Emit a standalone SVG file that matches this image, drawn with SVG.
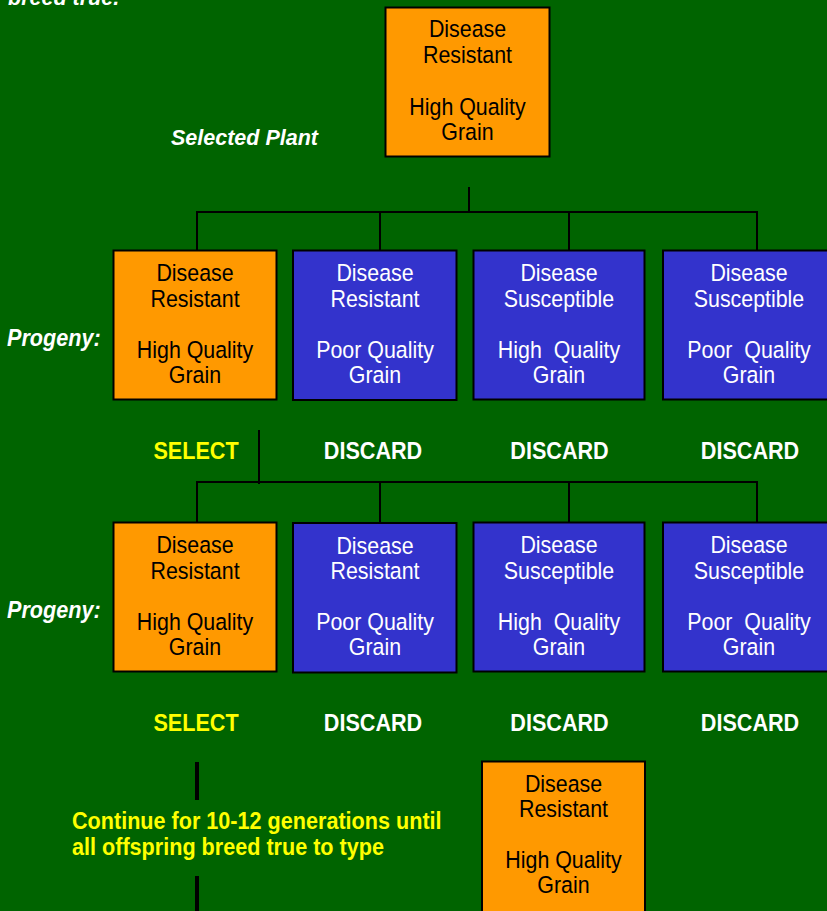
<svg xmlns="http://www.w3.org/2000/svg" width="827" height="911" viewBox="0 0 827 911">
  <style>
    .box { stroke: #000; stroke-width: 2; }
    .res { fill: #FF9900; }
    .sus { fill: #3333CC; }
    .wire { stroke: #000; stroke-width: 2; fill: none; }
    .post { stroke: #000; stroke-width: 4; fill: none; }
    text { font-family: "Liberation Sans", Arial, Helvetica, sans-serif; }
    .t { font-size: 23.5px; text-anchor: middle; transform-box: fill-box; transform-origin: center; transform: scaleX(0.91); }
    .dk { fill: #000; }
    .lt { fill: #fff; }
    .lab { font-size: 24px; font-weight: bold; text-anchor: middle; transform-box: fill-box; transform-origin: center; transform: scaleX(0.9); }
    .sel { fill: #FFFF00; }
    .dis { fill: #fff; }
    .side { font-size: 24px; font-weight: bold; font-style: italic; fill: #fff; transform-box: fill-box; transform-origin: left center; transform: scaleX(0.9); }
    .cap { font-size: 21.5px; font-weight: bold; font-style: italic; fill: #fff; }
    .note { font-size: 24px; font-weight: bold; fill: #FFFF00; transform-box: fill-box; transform-origin: left center; transform: scaleX(0.9); }
  </style>

  <rect x="0" y="0" width="827" height="911" fill="#006400"/>

  <text class="cap" x="8" y="4.5">breed true.</text>
  <text class="cap" x="171" y="144.5">Selected Plant</text>

  <!-- branch lines -->
  <g id="connectors">
    <path class="wire" d="M469 187 V213 M197 250 V212 H757 V250 M380 212 V250 M569 212 V250"/>
    <path class="wire" d="M259 430 V484 M197 522 V482 H757 V522 M380 482 V522 M569 482 V522"/>
    <path class="post" d="M197 762 V800 M197 876 V911"/>
  </g>

  <!-- parent -->
  <g id="parent">
    <rect class="box res" x="385.5" y="7.5" width="164" height="149"/>
    <text class="t dk" x="467.5" y="37.5">Disease</text>
    <text class="t dk" x="467.5" y="63.5">Resistant</text>
    <text class="t dk" x="467.5" y="115">High Quality</text>
    <text class="t dk" x="467.5" y="140">Grain</text>
  </g>

  <!-- first generation -->
  <text class="side" x="7" y="346">Progeny:</text>
  <g id="g1-rh">
    <rect class="box res" x="113.5" y="250.5" width="163" height="149"/>
    <text class="t dk" x="195" y="281.5">Disease</text>
    <text class="t dk" x="195" y="307">Resistant</text>
    <text class="t dk" x="195" y="358">High Quality</text>
    <text class="t dk" x="195" y="383">Grain</text>
  </g>
  <g id="g1-rp">
    <rect class="box sus" x="293" y="250.5" width="163.5" height="149.5"/>
    <text class="t lt" x="375" y="281.5">Disease</text>
    <text class="t lt" x="375" y="307">Resistant</text>
    <text class="t lt" x="375" y="358">Poor Quality</text>
    <text class="t lt" x="375" y="383">Grain</text>
  </g>
  <g id="g1-sh">
    <rect class="box sus" x="473.5" y="250.5" width="171" height="149"/>
    <text class="t lt" x="559" y="281.5">Disease</text>
    <text class="t lt" x="559" y="307">Susceptible</text>
    <text class="t lt" x="559" y="358" xml:space="preserve">High  Quality</text>
    <text class="t lt" x="559" y="383">Grain</text>
  </g>
  <g id="g1-sp">
    <rect class="box sus" x="663" y="250.5" width="172" height="149"/>
    <text class="t lt" x="749" y="281.5">Disease</text>
    <text class="t lt" x="749" y="307">Susceptible</text>
    <text class="t lt" x="749" y="358" xml:space="preserve">Poor  Quality</text>
    <text class="t lt" x="749" y="383">Grain</text>
  </g>
  <text class="lab sel" x="196" y="459.5">SELECT</text>
  <text class="lab dis" x="373" y="459.5">DISCARD</text>
  <text class="lab dis" x="559.5" y="459.5">DISCARD</text>
  <text class="lab dis" x="750" y="459.5">DISCARD</text>

  <!-- second generation -->
  <text class="side" x="7" y="618">Progeny:</text>
  <g id="g2-rh">
    <rect class="box res" x="113.5" y="522.5" width="163" height="149"/>
    <text class="t dk" x="195" y="553.5">Disease</text>
    <text class="t dk" x="195" y="579">Resistant</text>
    <text class="t dk" x="195" y="630">High Quality</text>
    <text class="t dk" x="195" y="655">Grain</text>
  </g>
  <g id="g2-rp">
    <rect class="box sus" x="293" y="523" width="163.5" height="149.5"/>
    <text class="t lt" x="375" y="554">Disease</text>
    <text class="t lt" x="375" y="579.5">Resistant</text>
    <text class="t lt" x="375" y="630.5">Poor Quality</text>
    <text class="t lt" x="375" y="655.5">Grain</text>
  </g>
  <g id="g2-sh">
    <rect class="box sus" x="473.5" y="522.5" width="171" height="149"/>
    <text class="t lt" x="559" y="553.5">Disease</text>
    <text class="t lt" x="559" y="579">Susceptible</text>
    <text class="t lt" x="559" y="630" xml:space="preserve">High  Quality</text>
    <text class="t lt" x="559" y="655">Grain</text>
  </g>
  <g id="g2-sp">
    <rect class="box sus" x="663" y="522.5" width="172" height="149"/>
    <text class="t lt" x="749" y="553.5">Disease</text>
    <text class="t lt" x="749" y="579">Susceptible</text>
    <text class="t lt" x="749" y="630" xml:space="preserve">Poor  Quality</text>
    <text class="t lt" x="749" y="655">Grain</text>
  </g>
  <text class="lab sel" x="196" y="731.5">SELECT</text>
  <text class="lab dis" x="373" y="731.5">DISCARD</text>
  <text class="lab dis" x="559.5" y="731.5">DISCARD</text>
  <text class="lab dis" x="750" y="731.5">DISCARD</text>

  <!-- repeat until true-breeding -->
  <text class="note" x="72" y="829">Continue for 10-12 generations until</text>
  <text class="note" x="72" y="855">all offspring breed true to type</text>

  <g id="final">
    <rect class="box res" x="482" y="761.5" width="163" height="152"/>
    <text class="t dk" x="563.5" y="792">Disease</text>
    <text class="t dk" x="563.5" y="817">Resistant</text>
    <text class="t dk" x="563.5" y="868">High Quality</text>
    <text class="t dk" x="563.5" y="893">Grain</text>
  </g>
</svg>
